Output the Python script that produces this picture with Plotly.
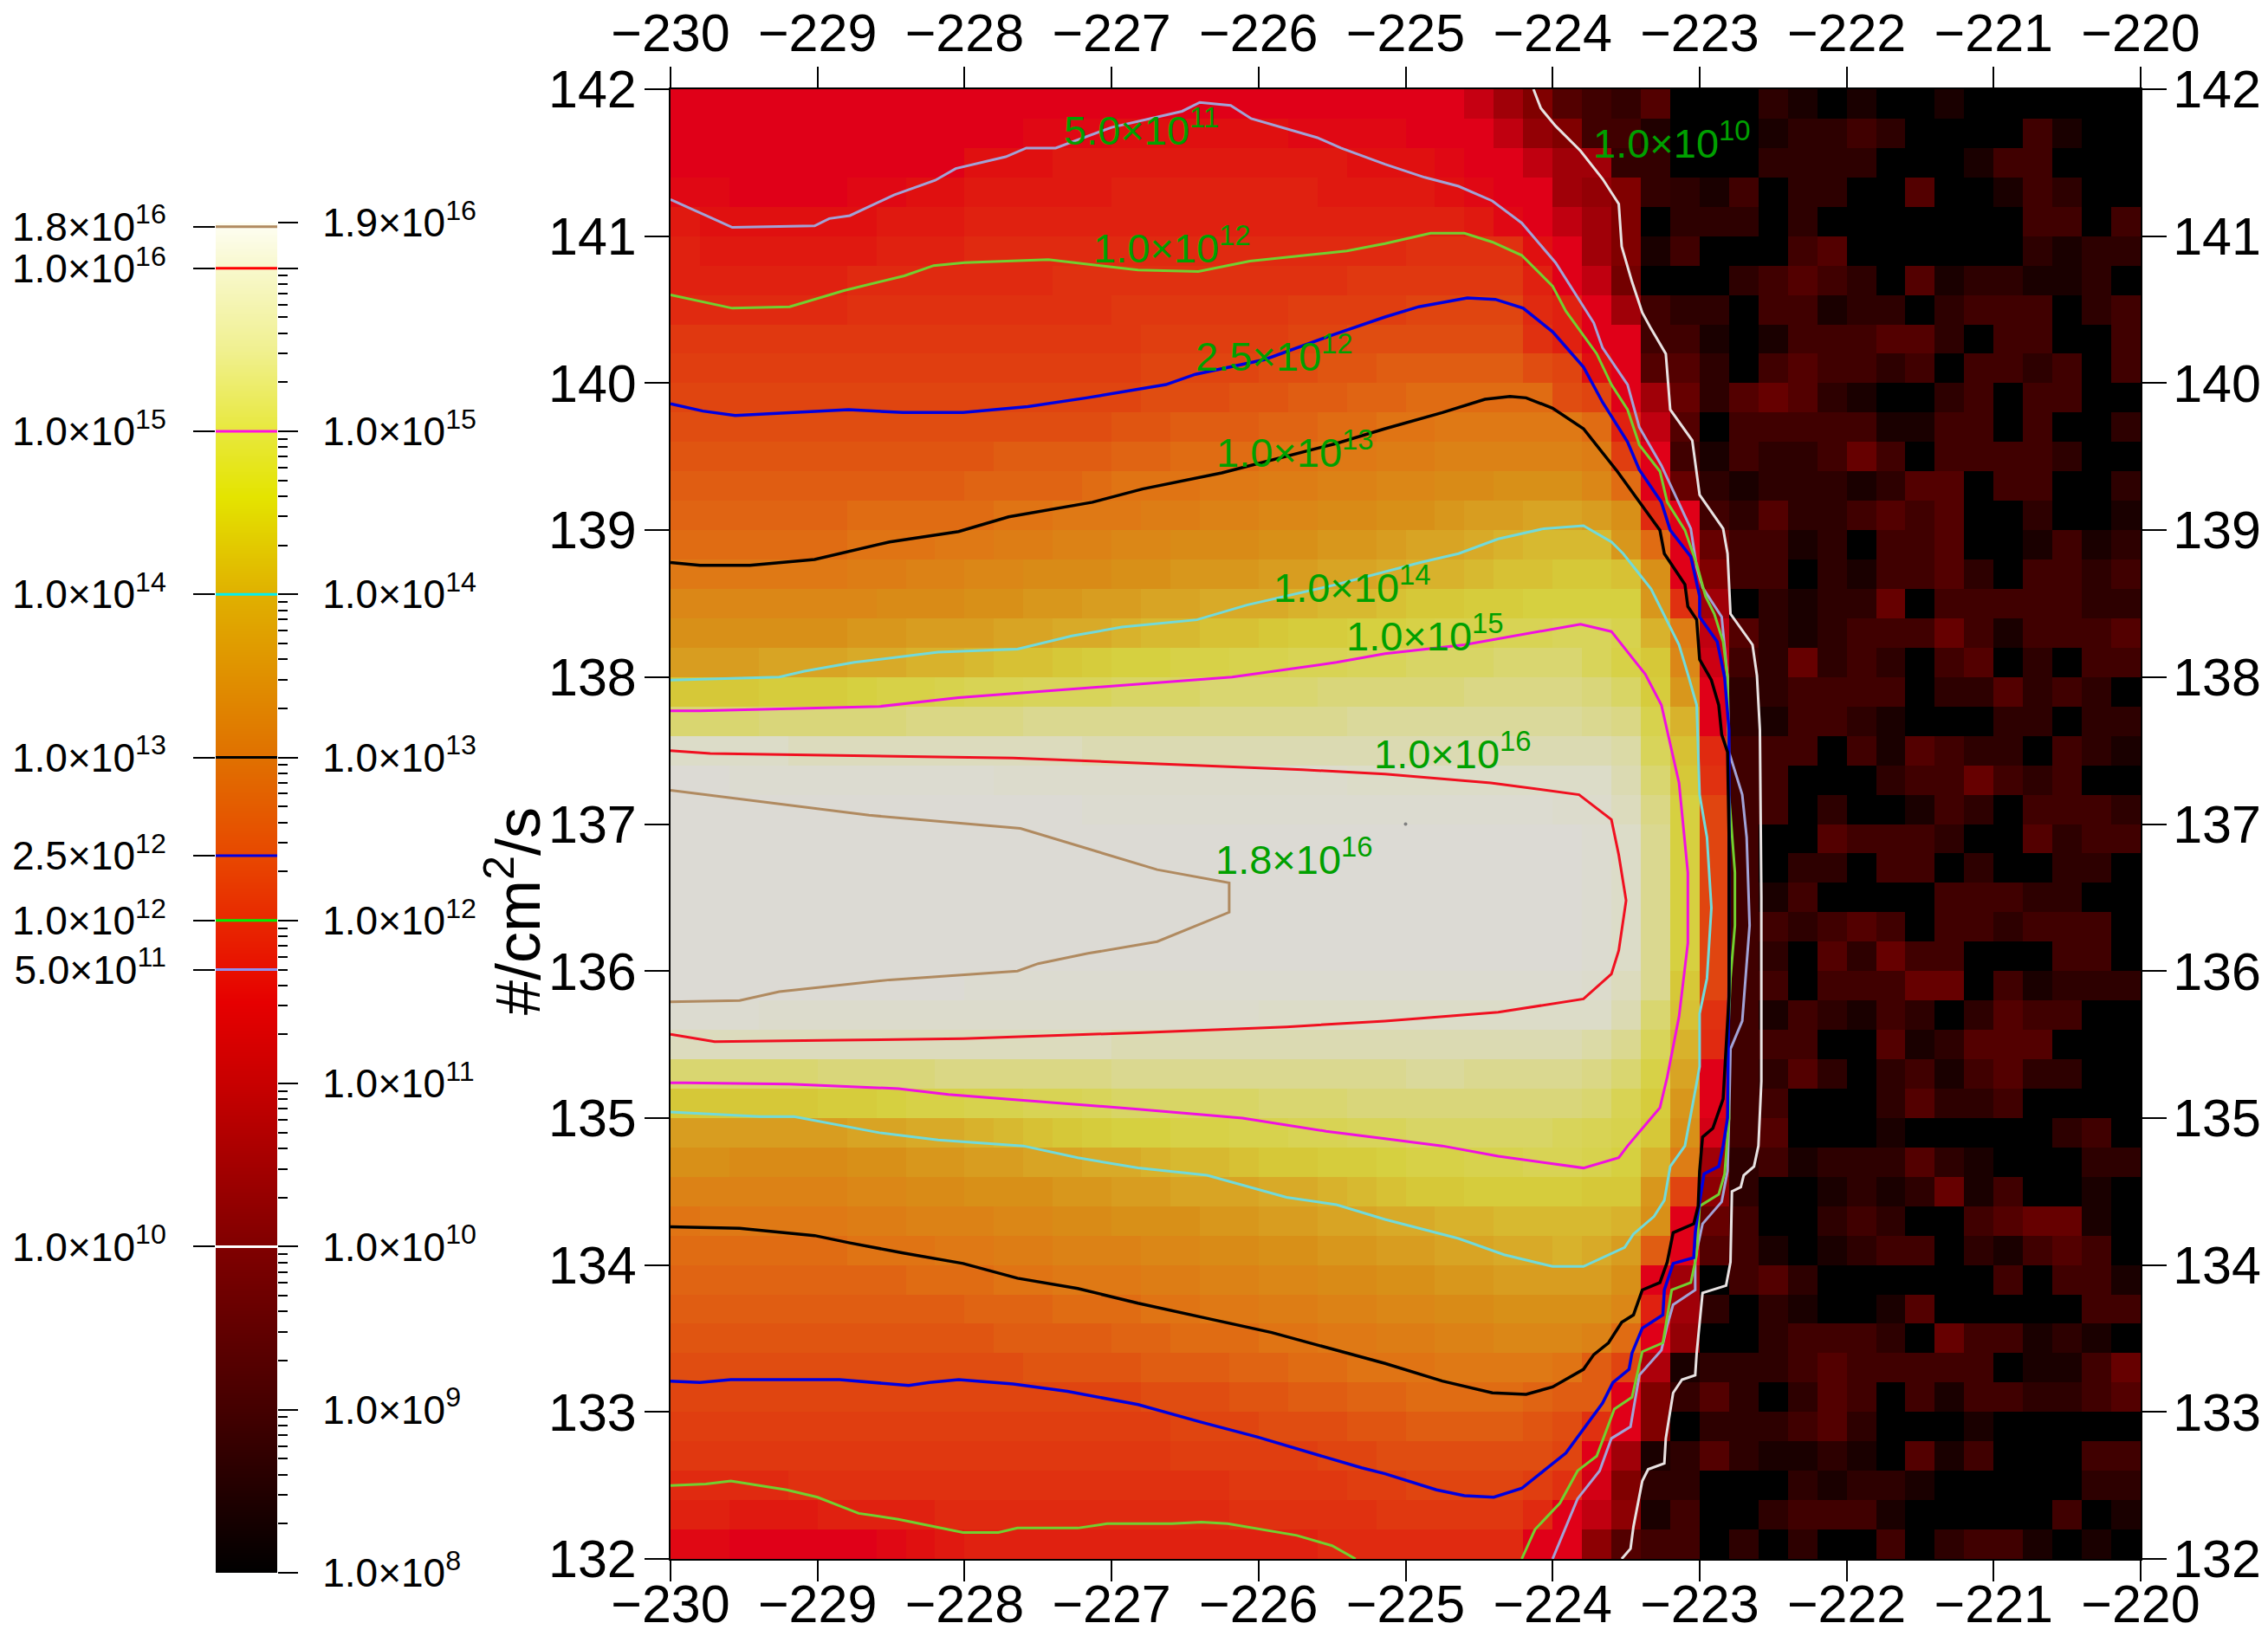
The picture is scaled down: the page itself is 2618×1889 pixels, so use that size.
import plotly.graph_objects as go

W, H = 2618, 1889

# ---- data: log10(flux) x 10, one list per row from y=142 (top) to y=132 (bottom), columns x=-230 .. -223
left_rows = [
 [115]*27+[111,105,100,93,90,88,93,80],
 [115]*12+[116]*3+[117]*6+[116]*4+[115]*3+[110,103,100,90,90,85,80],
 [115]*10+[117]*3+[118]*10+[117]*2+[117,116,115,115,110,105,105,88,88,80],
 [116,116,115,115,115,115,116,116,117,117]+[118]*5+[119]*7+[118]*3+[118,117,116,115,115,105,103,100,88,87],
 [118,117,117,117,117,117,117,118,118,118]+[119]*17+[118,116,115,110,105,100,80,87],
 [119]+[118]*6+[119]*3+[120]*15+[121]*4+[117,115,105,100,84,90],
 [119]*6+[120]*4+[120,120,120,121,121]+[121]*8+[122]*6+[119,115,110,98,80,80],
 [120]*6+[121]*9+[122]*6+[123]*4+[124]*4+[120,119,115,105,90,87],
 [122]*15+[122,123,123,123,123,123]+[124,124,125,125]+[125]*4+[121,119,115,115,90,90],
 [123]*15+[123,124,124,124,124,125]+[125,126,126,127]+[127]*4+[125,124,117,115,93,93],
 [124]*15+[124,125,125,125,126,126]+[127,127,128,128]+[129]*5+[125,124,115,105,96],
 [125]*15+[126,126,127,127,127,128]+[128,129,129,130]+[130,131,131,131,131,131]+[129,119,110,93],
 [126]*11+[127]*4+[128,128,129,129,129,130]+[130,131,131,132]+[132,133,133,133,133,133]+[132,123,115,90],
 [127]*10+[128,128,128,128,129]+[130,130,130,131,131,132]+[132,133,133,134]+[134,135,135,136,136,136]+[134,129,115,96],
 [128]*6+[129]*4+[129,130,130,131,131]+[131,132,132,133,133,134]+[134,135,135,136]+[136,137,138,138,139,139]+[138,136,120,115],
 [129]*6+[130,130,130,131]+[131,132,132,133,133]+[134,134,135,135,135,136]+[136,137,137,138]+[139,139,140,141,142,142]+[142,137,129,115],
 [131]*6+[132,132,133,133]+[134,134,135,135,135]+[136,136,137,137,137,138]+[138,139,139,140]+[141,141,142,143,143,144]+[144,143,136,115],
 [134]*7+[135]*3+[136,136,137,137,138]+[138,139,139,140,140,140]+[141,142,142,143]+[144,144,145,145,146,146]+[146,146,137,121],
 [136]*6+[137,137,138,138]+[138,139,139,140,140]+[141,142,142,143,143,144]+[145,145,146,146]+[147,148,148,149,149,150]+[150,148,141,132],
 [138,138,138,139,139,139,140,140,141,141]+[142,143,143,144,145]+[146,146,147,147,148,148]+[149,149,150,150]+[151,151,151,152,152,152]+[150,147,144,134],
 [144,144,144,145,145,145,146,147,147,148]+[149,149,150,150,150]+[151,151,151,152,152,152]+[152,153,153,153]+[153,153,154,154,154,154]+[153,151,145,137],
 [152,152,152,153,153,153,153,153,154,154]+[154,154,155,155,155]+[155]*6+[155,155,156,156]+[156]*6+[155,154,148,141],
 [160,160,160,160,159,159,159,159,159,159]+[159,159,159,159,158]+[158]*6+[158]*4+[158]*6+[158,157,150,143],
 [163,163]+[162]*8+[162,161,161,161,161]+[161]*6+[161,161,160,160]+[160]*6+[160,158,152,144],
 [163]*14+[162]*16+[161,161,159,154,146],
 [163]*31+[162,160,155,146],
 [163]*31+[162,160,155,146],
 [163]*31+[162,160,155,146],
 [163]*31+[162,160,155,146],
 [163]*31+[162,160,155,146],
 [163]*10+[162]*21+[161,159,155,144],
 [162]*3+[161]*17+[160]*12+[158,152,143],
 [159]*15+[158]*16+[157,155,150,141],
 [152]*5+[153]*4+[154]*6+[155]*10+[156,156,155,155,155,155]+[154,152,147,139],
 [144]*5+[145,145,146,147,147]+[148,148,149,149,150]+[151]*5+[152]+[152,152,153,153]+[153]*6+[152,149,145,137],
 [138]*6+[139,139,140,140]+[141,142,143,144,145]+[146,146,147,147,148,148]+[149,149,150,150]+[151,151,151,151,151,150]+[149,148,144,136],
 [136,136,135,135,135,135,136,136,137,137]+[138,138,139,139,140]+[140,141,142,142,143,144]+[144,145,145,146]+[147,147,148,148,149,149]+[148,146,141,132],
 [133]*6+[134,134,135,135]+[136,136,136,137,137]+[138,138,139,139,139,140]+[140,141,142,143]+[144,144,145,145,145,145]+[144,144,137,124],
 [130]+[131]*5+[132,132,133,133]+[133,134,134,135,135]+[136,136,136,137,137,138]+[138,139,139,140]+[140,141,141,142,142,142]+[142,141,136,115],
 [129]*6+[130,130,130,131]+[131,132,132,133,133]+[133,134,134,135,135,136]+[136,137,137,138]+[138,139,139,140,140,141]+[140,138,127,115],
 [128]*8+[129,129]+[129,130,130,131,131]+[131,132,132,133,133,134]+[134,135,135,136]+[136,137,137,138,138,138]+[138,136,115,105],
 [127]*10+[128,128,128,129,129]+[129,130,130,131,131,132]+[132,133,133,134]+[134,135,135,136,136,136]+[136,134,119,105],
 [126]*11+[127]*4+[128,128,129,129,129,130]+[130,131,131,132]+[132,133,133,134,134,134]+[133,129,115,103],
 [125]*12+[126]*4+[127,127,127,128,128]+[129,129,130,130]+[130,131,131,131,131,130]+[127,124,107,84],
 [124]*16+[125,125,125,126,126]+[127,127,128,128]+[129,129,129,129,128,127]+[127,115,100,88],
 [123]*17+[124]*3+[125]+[125,125,126,126]+[127,127,127,127,126,125]+[121,115,100,80],
 [122]*17+[123]*4+[123,124,124,125]+[125,125,125,125,125,124]+[115,105,84,87],
 [120]*4+[121]*15+[122]*4+[123]*2+[124]*4+[123,121,113,100,87,87],
 [119,119,118,118,118,119,119,119,119,120]+[120]*9+[121]*5+[122]*5+[120,115,110,102,84,90],
 [116,116,115,115,115,115,115,116,117,118]+[119]*12+[120]*7+[115,115,102,93,90,90],
]
# column x=-223.0 .. -222.8, top to bottom
edge_col = [80,80,80,84,87,80,80,87,84,87,87,80,84,87,90,96,100,105,110,112,115,115,120,121,124,
            124,124,124,124,124,124,121,120,115,115,113,105,102,96,93,80,87,80,87,93,87,93,80,80,80]
# speckle columns x=-222.8 .. -220: digit = level in noise_levels
noise_levels = [80,84,87,90,93,96]
noise_rows = ["02101001000000","01223200003100","02222000133000","30220040013200","20200000003303",
 "00340000002122","23432041221120","03312202333023","01333442033003","03433230332303",
 "45421002303300","33333113303002","32235303333200","12221244033002","24223434002001",
 "33120334001312","33021334203323","02122503333322","42123335313334","32523203402033",
 "22333302242320","21332100022022","33303143220321","33000233532300","33020013203332",
 "30043332004233","30220330200220","31300003332200","33234303323330","32042533000330",
 "33033355031222","31321320243300","33300412444000","32420231342200","33000242230000",
 "34000100000230","23122242100022","20012125130010","30023200345510","31012330213430",
 "34200000030331","02100140000033","02333205331210","22343333301135","20243031332234",
 "22342000100000","21121041300033","00212210000022","02333100000301","20200302331010"]

x_edges = [-230+0.2*i for i in range(51)]
y_edges = [142-0.2*i for i in range(51)]
x_ticks = [-230,-229,-228,-227,-226,-225,-224,-223,-222,-221,-220]
y_ticks = [132,133,134,135,136,137,138,139,140,141,142]

# ---- contour lines as (x, y)
c_1e10 = [(-224.13,142),(-224.08,141.87),(-223.98,141.75),(-223.81,141.58),(-223.66,141.39),(-223.55,141.22),(-223.53,140.93),(-223.46,140.69),(-223.39,140.48),(-223.33,140.37),(-223.23,140.2),(-223.2,139.82),(-223.05,139.61),(-223.0,139.24),(-222.84,139.01),(-222.81,138.84),(-222.79,138.43),(-222.64,138.22),(-222.61,138.01),(-222.59,137.64),(-222.58,136.5),(-222.58,135.25),(-222.6,134.81),(-222.63,134.67),(-222.7,134.61),(-222.72,134.53),(-222.78,134.5),(-222.79,134.02),(-222.82,133.86),(-222.98,133.81),(-223.02,133.4),(-223.03,133.25),(-223.12,133.22),(-223.18,133.13),(-223.23,132.82),(-223.24,132.65),(-223.35,132.61),(-223.39,132.53),(-223.45,132.22),(-223.47,132.07),(-223.53,132)]
c_5e11 = [(-230,141.25),(-229.58,141.06),(-229.02,141.07),(-228.92,141.12),(-228.78,141.14),(-228.48,141.28),(-228.2,141.38),(-228.06,141.46),(-227.72,141.54),(-227.58,141.6),(-227.38,141.6),(-227.0,141.74),(-226.52,141.85),(-226.4,141.91),(-226.19,141.89),(-226.05,141.8),(-225.6,141.67),(-225.44,141.6),(-225.14,141.49),(-224.87,141.4),(-224.64,141.34),(-224.41,141.24),(-224.21,141.09),(-223.98,140.82),(-223.72,140.41),(-223.66,140.24),(-223.49,139.99),(-223.41,139.7),(-223.26,139.44),(-223.06,139.01),(-223.02,138.75),(-222.98,138.61),(-222.85,138.41),(-222.83,138.22),(-222.81,138.0),(-222.8,137.49),(-222.71,137.2),(-222.68,136.91),(-222.66,136.31),(-222.71,135.66),(-222.79,135.47),(-222.8,135.0),(-222.81,134.64),(-222.85,134.43),(-222.98,134.28),(-223.03,134.05),(-223.03,133.83),(-223.18,133.73),(-223.22,133.59),(-223.26,133.42),(-223.41,133.25),(-223.47,132.9),(-223.6,132.82),(-223.68,132.6),(-223.83,132.41),(-224.0,132)]
c_1e12 = [(-230,140.6),(-229.58,140.51),(-229.19,140.52),(-228.82,140.63),(-228.41,140.73),(-228.21,140.8),(-228.0,140.82),(-227.43,140.84),(-226.82,140.77),(-226.41,140.76),(-226.06,140.83),(-225.4,140.9),(-225.14,140.95),(-224.83,141.02),(-224.6,141.02),(-224.41,140.96),(-224.21,140.87),(-224.0,140.66),(-223.91,140.49),(-223.7,140.2),(-223.6,139.99),(-223.49,139.82),(-223.41,139.58),(-223.27,139.4),(-223.22,139.19),(-223.1,139.0),(-223.02,138.77),(-222.96,138.55),(-222.9,138.43),(-222.84,138.24),(-222.81,138.0),(-222.8,137.2),(-222.76,136.67),(-222.76,136.31),(-222.79,135.95),(-222.81,135.47),(-222.8,135.0),(-222.83,134.62),(-222.87,134.48),(-223.0,134.4),(-223.02,134.07),(-223.06,133.88),(-223.19,133.83),(-223.25,133.47),(-223.39,133.41),(-223.46,133.1),(-223.58,133.02),(-223.7,132.7),(-223.83,132.6),(-223.95,132.38),(-224.12,132.2),(-224.21,132)]
c_1e12b = [(-230,132.5),(-229.76,132.51),(-229.59,132.53),(-229.21,132.47),(-229.0,132.42),(-228.72,132.31),(-228.45,132.27),(-228.01,132.18),(-227.77,132.18),(-227.64,132.21),(-227.23,132.21),(-227.03,132.24),(-226.59,132.24),(-226.39,132.25),(-226.21,132.24),(-225.74,132.16),(-225.5,132.09),(-225.34,132)]
c_25e11 = [(-230,139.86),(-229.78,139.81),(-229.56,139.78),(-228.79,139.82),(-228.42,139.8),(-228.01,139.8),(-227.57,139.84),(-227.17,139.9),(-226.63,139.99),(-226.43,140.06),(-225.96,140.16),(-225.49,140.33),(-225.14,140.45),(-224.91,140.52),(-224.58,140.58),(-224.39,140.57),(-224.2,140.51),(-224.0,140.35),(-223.79,140.11),(-223.66,139.87),(-223.49,139.6),(-223.41,139.41),(-223.26,139.19),(-223.2,139.0),(-223.06,138.82),(-223.0,138.55),(-223.0,138.41),(-222.88,138.24),(-222.83,138.0),(-222.8,137.64),(-222.8,136.67),(-222.8,135.95),(-222.81,135.0),(-222.84,134.81),(-222.87,134.67),(-222.97,134.62),(-223.0,134.43),(-223.03,134.22),(-223.04,134.05),(-223.18,134.01),(-223.24,133.83),(-223.25,133.66),(-223.39,133.57),(-223.46,133.4),(-223.48,133.29),(-223.59,133.2),(-223.66,133.06),(-223.79,132.88),(-223.91,132.72),(-224.06,132.6),(-224.21,132.48),(-224.4,132.42),(-224.6,132.43),(-224.79,132.47),(-225.14,132.58),(-225.3,132.62),(-225.61,132.71),(-226.01,132.83),(-226.39,132.93),(-226.82,133.05),(-227.3,133.14),(-227.67,133.19),(-228.04,133.22),(-228.24,133.2),(-228.38,133.18),(-228.61,133.2),(-228.85,133.22),(-229.59,133.22),(-229.8,133.2),(-230,133.21)]
c_1e13 = [(-230,138.78),(-229.8,138.76),(-229.46,138.76),(-229.02,138.8),(-228.51,138.92),(-228.04,138.99),(-227.7,139.09),(-227.13,139.19),(-226.79,139.28),(-226.25,139.39),(-225.47,139.59),(-225.14,139.69),(-224.75,139.8),(-224.46,139.89),(-224.29,139.91),(-224.18,139.9),(-224.0,139.83),(-223.79,139.69),(-223.56,139.4),(-223.27,139.0),(-223.24,138.84),(-223.1,138.63),(-223.08,138.48),(-223.02,138.39),(-223.0,138.12),(-222.92,137.98),(-222.87,137.81),(-222.85,137.61),(-222.81,137.49),(-222.8,136.91),(-222.8,135.83),(-222.82,135.47),(-222.84,135.13),(-222.91,134.93),(-222.98,134.87),(-223.0,134.64),(-223.01,134.4),(-223.04,134.28),(-223.18,134.22),(-223.22,134.02),(-223.27,133.88),(-223.39,133.83),(-223.45,133.66),(-223.53,133.61),(-223.62,133.47),(-223.72,133.39),(-223.79,133.29),(-224.0,133.17),(-224.18,133.12),(-224.41,133.13),(-224.75,133.21),(-225.14,133.33),(-225.47,133.42),(-225.91,133.54),(-226.32,133.63),(-226.82,133.74),(-227.23,133.84),(-227.64,133.91),(-228.01,134.01),(-228.41,134.08),(-228.78,134.15),(-229.02,134.2),(-229.53,134.25),(-230,134.26)]
c_1e14 = [(-230,137.98),(-229.26,138.0),(-229.09,138.04),(-228.75,138.1),(-228.18,138.17),(-227.64,138.19),(-227.27,138.28),(-226.93,138.34),(-226.42,138.39),(-226.08,138.49),(-225.47,138.63),(-224.9,138.78),(-224.64,138.84),(-224.37,138.94),(-224.06,139.01),(-223.79,139.03),(-223.6,138.92),(-223.52,138.84),(-223.33,138.6),(-223.24,138.42),(-223.14,138.22),(-223.08,138.02),(-223.02,137.81),(-223.0,137.2),(-222.95,136.91),(-222.92,136.43),(-222.95,135.95),(-223.0,135.71),(-223.0,135.35),(-223.04,135.13),(-223.1,134.81),(-223.2,134.67),(-223.24,134.44),(-223.31,134.33),(-223.45,134.21),(-223.51,134.12),(-223.79,133.99),(-224.0,133.99),(-224.33,134.07),(-224.64,134.18),(-225.14,134.31),(-225.47,134.41),(-225.81,134.46),(-226.35,134.61),(-226.82,134.66),(-227.23,134.73),(-227.6,134.81),(-228.18,134.85),(-228.58,134.9),(-229.16,135.01),(-229.39,135.01),(-230,135.04)]
c_1e15 = [(-230,137.77),(-229.8,137.77),(-228.58,137.8),(-228.04,137.86),(-226.18,138.0),(-225.47,138.1),(-225.14,138.16),(-224.6,138.22),(-223.81,138.36),(-223.6,138.31),(-223.37,138.02),(-223.26,137.81),(-223.14,137.28),(-223.08,136.67),(-223.08,136.19),(-223.14,135.69),(-223.22,135.28),(-223.27,135.07),(-223.33,135.0),(-223.49,134.81),(-223.55,134.73),(-223.79,134.66),(-224.37,134.74),(-224.75,134.81),(-225.14,134.86),(-225.54,134.91),(-226.11,135.0),(-226.82,135.06),(-227.6,135.12),(-228.11,135.16),(-228.45,135.2),(-229.19,135.23),(-229.9,135.24),(-230,135.24)]
c_1e16 = [(-230,137.5),(-229.73,137.48),(-227.67,137.45),(-225.7,137.37),(-225.14,137.34),(-224.42,137.28),(-223.82,137.2),(-223.6,137.03),(-223.55,136.79),(-223.5,136.48),(-223.55,136.14),(-223.6,135.98),(-223.79,135.81),(-224.37,135.72),(-225.14,135.66),(-225.81,135.62),(-226.82,135.58),(-228.01,135.54),(-228.85,135.53),(-229.7,135.52),(-230,135.57)]
c_18e15 = [(-230,137.23),(-228.65,137.06),(-227.62,136.97),(-226.69,136.69),(-226.2,136.6),(-226.2,136.4),(-226.69,136.2),(-227.16,136.12),(-227.5,136.05),(-227.64,136.0),(-228.51,135.94),(-229.26,135.86),(-229.53,135.8),(-230,135.79)]

contour_lines = [
 (c_1e10,"#e8e2e2",3),(c_5e11,"#a2a2d6",3),(c_1e12,"#72d030",3),(c_1e12b,"#72d030",3),
 (c_25e11,"#0000e0",3.5),(c_1e13,"#000000",3.5),(c_1e14,"#72dada",3),(c_1e15,"#f010e0",3),
 (c_1e16,"#f01020",3),(c_18e15,"#b08a60",3)]

label_text = ["5.0×10<sup>11</sup>","1.0×10<sup>12</sup>","2.5×10<sup>12</sup>","1.0×10<sup>13</sup>","1.0×10<sup>14</sup>",
              "1.0×10<sup>15</sup>","1.0×10<sup>16</sup>","1.8×10<sup>16</sup>","1.0×10<sup>10</sup>"]
label_x = [-226.80,-226.59,-225.89,-225.75,-225.36,-224.87,-224.68,-225.76,-223.19]
label_y = [141.74,140.94,140.20,139.55,138.63,138.30,137.50,136.78,141.65]

# ---- colour bar
bar_levels = [8,9,10,11,11.5,11.7,12,12.4,13,14,14.6,15,15.5,16,16.28]
bar_colors = ["#000000","#440000","#800000","#c80000","#e60000","#e81000","#e82800","#e84800","#e07000",
              "#e0b000","#e4e400","#e8e83c","#f0f090","#f8f8cc","#fefef4"]
marks_level = [16.255,16,15,14,13,12.398,12,11.699,10]
marks_color = ["#b08a60","#ff0000","#ff10e0","#00f0f0","#000000","#0000e0","#00f000","#9090f0","#ffffff"]
left_text = ["1.8×10<sup>16</sup>","1.0×10<sup>16</sup>","1.0×10<sup>15</sup>","1.0×10<sup>14</sup>","1.0×10<sup>13</sup>",
             "2.5×10<sup>12</sup>","1.0×10<sup>12</sup>","5.0×10<sup>11</sup>","1.0×10<sup>10</sup>"]
right_vals = [16.279,16,15,14,13,12,11,10,9,8]
right_text = ["1.9×10<sup>16</sup>","","1.0×10<sup>15</sup>","1.0×10<sup>14</sup>","1.0×10<sup>13</sup>","1.0×10<sup>12</sup>",
              "1.0×10<sup>11</sup>","1.0×10<sup>10</sup>","1.0×10<sup>9</sup>","1.0×10<sup>8</sup>"]
minor_vals = [n+d for n in range(8,16) for d in (0.301,0.477,0.602,0.699,0.778,0.845,0.903,0.954)]

# ---- heat map colours (value, colour)
heat_stops = [(80,"#000000"),(90,"#400000"),(100,"#800000"),(110,"#c00010"),(115,"#e00018"),(117,"#e01010"),
 (120,"#e02a10"),(124,"#e04510"),(130,"#e07414"),(136,"#d89018"),(140,"#d8aa28"),(144,"#d6c838"),
 (146,"#d6d040"),(150,"#d8d45a"),(155,"#dad890"),(160,"#dcdcc8"),(163,"#dcdad4")]
zmin, zmax = 80, 163

z = []
for r, left in enumerate(left_rows):
    row = list(left) + [edge_col[r]] + [noise_levels[int(ch)] for ch in noise_rows[r]]
    assert len(row) == 50, (r, len(row))
    z.append(row)
assert len(z) == 50

fig = go.Figure()
fig.add_trace(go.Heatmap(x=x_edges, y=y_edges, z=z, zmin=zmin, zmax=zmax, showscale=False, hoverinfo="skip",
    colorscale=[[(v-zmin)/(zmax-zmin), c] for v, c in heat_stops], xaxis="x", yaxis="y"))
for pts, col, w in contour_lines:
    fig.add_trace(go.Scatter(x=[p[0] for p in pts], y=[p[1] for p in pts], mode="lines",
        line=dict(color=col, width=w), xaxis="x2", yaxis="y2", showlegend=False, hoverinfo="skip"))
fig.add_trace(go.Scatter(x=[-225.0], y=[137.0], mode="markers", marker=dict(color="#808080", size=4),
    xaxis="x2", yaxis="y2", showlegend=False, hoverinfo="skip"))

vmin, vmax = bar_levels[0], bar_levels[-1]
fig.add_trace(go.Heatmap(x=[0, 1], y=bar_levels, z=[[v, v] for v in bar_levels], zmin=vmin, zmax=vmax, zsmooth="best",
    showscale=False, hoverinfo="skip", xaxis="x3", yaxis="y3",
    colorscale=[[(v-vmin)/(vmax-vmin), c] for v, c in zip(bar_levels, bar_colors)]))
for lvl, col in zip(marks_level, marks_color):
    fig.add_trace(go.Scatter(x=[0, 1], y=[lvl, lvl], mode="lines", line=dict(color=col, width=3),
        xaxis="x3", yaxis="y4", showlegend=False, hoverinfo="skip"))

tick_font = dict(family="Liberation Sans", size=61, color="#000000")
bar_font = dict(family="Liberation Sans", size=46, color="#000000")
px = lambda a: a / W
py = lambda a: (H - a) / H
x_dom = [px(774), px(2471)]
y_dom = [py(1800), py(103)]
axis_x = dict(range=[-230, -220], tickvals=x_ticks, ticks="outside", ticklen=24, tickwidth=1.5, tickcolor="#000000",
              tickfont=tick_font, showgrid=False, zeroline=False, showline=True, linecolor="#000000", linewidth=2,
              tickformat="d", domain=x_dom, automargin=False)
axis_y = dict(range=[132, 142], tickvals=y_ticks, ticks="outside", ticklen=28, tickwidth=1.5, tickcolor="#000000",
              tickfont=tick_font, showgrid=False, zeroline=False, showline=True, linecolor="#000000", linewidth=2,
              tickformat="d", domain=y_dom, automargin=False)
fig.update_layout(
    template="none",
    width=W, height=H, margin=dict(l=0, r=0, t=0, b=0), paper_bgcolor="#ffffff", plot_bgcolor="#ffffff",
    showlegend=False,
    xaxis=dict(axis_x, side="bottom", anchor="y", ticklabelstandoff=-26),
    yaxis=dict(axis_y, side="left", anchor="x", ticklabelstandoff=-3),
    xaxis2=dict(axis_x, side="top", anchor="y2", overlaying="x", ticklabelstandoff=-6),
    yaxis2=dict(axis_y, side="right", anchor="x2", overlaying="y", ticklabelstandoff=-5),
    xaxis3=dict(range=[0, 1], domain=[px(249), px(320)], anchor="y3", visible=False, automargin=False),
    yaxis3=dict(range=[vmin, vmax], domain=[py(1816), py(257)], anchor="x3", side="left", showgrid=False, zeroline=False,
                tickvals=marks_level, ticktext=left_text, ticks="outside", ticklen=25, tickwidth=1.5, tickcolor="#000000",
                tickfont=bar_font, ticklabelstandoff=22, automargin=False),
    yaxis4=dict(range=[vmin, vmax], domain=[py(1816), py(257)], anchor="x3", side="right", overlaying="y3", showgrid=False,
                zeroline=False, tickvals=right_vals, ticktext=right_text, ticks="outside", ticklen=23, tickwidth=1.5,
                tickcolor="#000000", tickfont=bar_font, ticklabelstandoff=19, automargin=False,
                minor=dict(tickvals=minor_vals, ticks="outside", ticklen=11, tickwidth=1.5, tickcolor="#000000")),
    annotations=[dict(x=x, y=y, xref="x", yref="y", text=t, showarrow=False,
                      font=dict(family="Liberation Sans", size=47, color="#00a000"))
                 for x, y, t in zip(label_x, label_y, label_text)] + [
        dict(x=px(592), y=py(1052), xref="paper", yref="paper", xanchor="center", yanchor="middle",
             text="#/cm<sup>2</sup>/s", showarrow=False, textangle=-90,
             font=dict(family="Liberation Sans", size=72, color="#000000"))],
)
fig.write_html("out.html", config=dict(displayModeBar=False),
               post_script="document.body.style.margin='0';document.body.style.overflow='hidden';")
